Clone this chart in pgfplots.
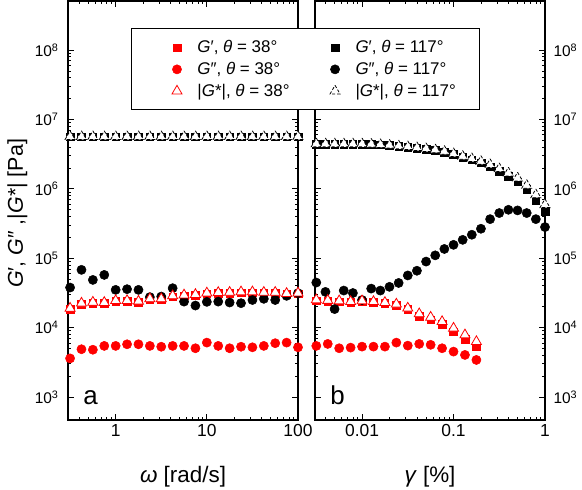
\documentclass[border=0pt]{standalone}
\usepackage{fontspec}
\setmainfont{Liberation Sans}
\usepackage{pgfplots}
\pgfplotsset{compat=1.18}
\definecolor{myred}{rgb}{1,0,0}
\pgfplotsset{
  limg/.style={legend image code/.code={\path (-23bp,0bp) (18bp,0bp); \draw[##1,/tikz/only marks] plot coordinates {(0bp,0bp)};}},
  rsq/.style={only marks, mark=square*, mark size=3.8bp, mark options={draw=myred, fill=myred, line width=0.5bp}, limg},
  rci/.style={only marks, mark=*, mark size=4.6bp, mark options={draw=myred, fill=myred, line width=0.5bp}, limg},
  rtr/.style={only marks, mark=triangle*, mark size=5.8bp, mark options={draw=myred, fill=white, line width=0.8bp}, limg},
  bsq/.style={only marks, mark=square*, mark size=3.8bp, mark options={draw=black, fill=black, line width=0.5bp}, limg},
  bci/.style={only marks, mark=*, mark size=4.6bp, mark options={draw=black, fill=black, line width=0.5bp}, limg},
  btr/.style={only marks, mark=triangle*, mark size=5.8bp, mark options={draw=black, fill=white, line width=0.8bp}, limg},
}
\begin{document}
\begin{tikzpicture}
\path[use as bounding box] (0,0) rectangle (582bp,490bp);
% ---------------- left panel ----------------
\begin{axis}[at={(68bp,70bp)}, anchor=south west,
  scale only axis, width=230bp, height=419bp, clip mode=individual,
  xmode=log, ymode=log,
  ymin=466, ymax=5.1e8,
  xmin=0.3, xmax=100,
  axis line style={line width=1.1bp},
  tick align=inside, xtick pos=both, ytick pos=both,
  major tick length=6bp, minor tick length=3.5bp,
  tick style={black, line width=0.9bp},
  yticklabel style={font=\fontsize{15.5}{18}\selectfont},
  xticklabel style={font=\fontsize{17.5}{20}\selectfont, yshift=-1bp},
  xticklabels={,1,10,100}, xtick={0.1,1,10,100},
  ytick={1e3,1e4,1e5,1e6,1e7,1e8},
  yticklabels={10\textsuperscript{3},10\textsuperscript{4},10\textsuperscript{5},10\textsuperscript{6},10\textsuperscript{7},10\textsuperscript{8}},
  yticklabel pos=left,
  yticklabel style={xshift=-6bp}]
\addplot+[rsq] coordinates {
(0.3162,1.83e4)(0.4217,2.18e4)(0.5623,2.25e4)(0.7499,2.23e4)(1,2.38e4)(1.3335,2.38e4)(1.7783,2.33e4)
(2.3714,2.53e4)(3.1623,2.53e4)(4.2170,2.8e4)(5.6234,2.88e4)(7.4989,2.93e4)(10,3.08e4)(13.335,3.13e4)
(17.783,3.15e4)(23.714,3.2e4)(31.623,3.2e4)(42.170,3.15e4)(56.234,3.15e4)(74.989,3.03e4)(100,3.08e4)};
\addplot+[bsq] coordinates {
(0.3162,5.6e6)(0.4217,5.6e6)(0.5623,5.6e6)(0.7499,5.6e6)(1,5.6e6)(1.3335,5.6e6)(1.7783,5.6e6)
(2.3714,5.6e6)(3.1623,5.6e6)(4.2170,5.6e6)(5.6234,5.6e6)(7.4989,5.6e6)(10,5.6e6)(13.335,5.6e6)
(17.783,5.6e6)(23.714,5.6e6)(31.623,5.6e6)(42.170,5.6e6)(56.234,5.6e6)(74.989,5.6e6)(100,5.6e6)};
\addplot+[rci] coordinates {
(0.3162,3.6e3)(0.4217,4.88e3)(0.5623,4.8e3)(0.7499,5.45e3)(1,5.45e3)(1.3335,5.75e3)(1.7783,5.75e3)
(2.3714,5.45e3)(3.1623,5.3e3)(4.2170,5.45e3)(5.6234,5.45e3)(7.4989,5.04e3)(10,6.08e3)(13.335,5.45e3)
(17.783,5.04e3)(23.714,5.3e3)(31.623,5.2e3)(42.170,5.45e3)(56.234,5.96e3)(74.989,6.08e3)(100,5.2e3)};
\addplot+[bci] coordinates {
(0.3162,3.78e4)(0.4217,6.8e4)(0.5623,4.87e4)(0.7499,5.75e4)(1,3.5e4)(1.3335,3.58e4)(1.7783,3.5e4)
(2.3714,2.75e4)(3.1623,2.8e4)(4.2170,3.7e4)(5.6234,2.37e4)(7.4989,2.08e4)(10,2.35e4)(13.335,2.37e4)
(17.783,2.3e4)(23.714,2.25e4)(31.623,2.5e4)(42.170,2.6e4)(56.234,2.5e4)(74.989,2.87e4)(100,3.13e4)};
\addplot+[rtr] coordinates {
(0.3162,1.9e4)(0.4217,2.25e4)(0.5623,2.32e4)(0.7499,2.3e4)(1,2.45e4)(1.3335,2.45e4)(1.7783,2.4e4)
(2.3714,2.6e4)(3.1623,2.6e4)(4.2170,2.87e4)(5.6234,2.95e4)(7.4989,3.0e4)(10,3.15e4)(13.335,3.2e4)
(17.783,3.22e4)(23.714,3.27e4)(31.623,3.27e4)(42.170,3.22e4)(56.234,3.22e4)(74.989,3.1e4)(100,3.15e4)};
\addplot+[btr] coordinates {
(0.3162,5.65e6)(0.4217,5.65e6)(0.5623,5.65e6)(0.7499,5.65e6)(1,5.65e6)(1.3335,5.65e6)(1.7783,5.65e6)
(2.3714,5.65e6)(3.1623,5.65e6)(4.2170,5.65e6)(5.6234,5.65e6)(7.4989,5.65e6)(10,5.65e6)(13.335,5.65e6)
(17.783,5.65e6)(23.714,5.65e6)(31.623,5.65e6)(42.170,5.65e6)(56.234,5.65e6)(74.989,5.65e6)(100,5.65e6)};
\node[anchor=base west, font=\fontsize{26}{30}\selectfont] at (axis description cs:0.052,0.036) {a};
\node[anchor=base, font=\fontsize{22.5}{26}\selectfont] at (axis description cs:0.5,-0.150) {\textit{ω} [rad/s]};
\node[rotate=90, font=\fontsize{21.5}{26}\selectfont] at (axis description cs:-0.22,0.493) {\textit{G}′, \textit{G}″ ,|\textit{G}*| [Pa]};
\end{axis}
% ---------------- right panel ----------------
\begin{axis}[at={(315bp,70bp)}, anchor=south west,
  scale only axis, width=230bp, height=419bp, clip mode=individual,
  xmode=log, ymode=log,
  ymin=466, ymax=5.1e8,
  xmin=0.00306, xmax=1,
  axis line style={line width=1.1bp},
  tick align=inside, xtick pos=both, ytick pos=both,
  major tick length=6bp, minor tick length=3.5bp,
  tick style={black, line width=0.9bp},
  yticklabel style={font=\fontsize{15.5}{18}\selectfont},
  xticklabel style={font=\fontsize{17.5}{20}\selectfont, yshift=-1bp},
  xtick={0.001,0.01,0.1,1}, xticklabels={,0.01,0.1,1},
  ytick={1e3,1e4,1e5,1e6,1e7,1e8},
  yticklabels={10\textsuperscript{3},10\textsuperscript{4},10\textsuperscript{5},10\textsuperscript{6},10\textsuperscript{7},10\textsuperscript{8}},
  yticklabel pos=right,
  yticklabel style={xshift=5bp},
  legend columns=2, legend cell align=left,
  legend style={at={(axis description cs:-0.8,0.935)}, anchor=north west,
    draw=black, line width=1bp, fill=white,
    inner xsep=22bp, inner ysep=10bp,
    font=\fontsize{17}{20}\selectfont, row sep=4bp,
    /tikz/every even column/.append style={column sep=20bp}}]
\addplot+[rsq] coordinates {
(0.003162,2.44e4)(0.004217,2.39e4)(0.005623,2.37e4)(0.007499,2.31e4)(0.01,2.37e4)(0.013335,2.31e4)
(0.017783,2.24e4)(0.023714,2.1e4)(0.031623,1.83e4)(0.04217,1.47e4)(0.05623,1.29e4)(0.07499,1.11e4)
(0.1,8.7e3)(0.13335,6.73e3)(0.17783,5.27e3)};
\addlegendentry{\textit{G}′, \textit{θ} = 38°}
\addplot+[bsq] coordinates {
(0.003162,4.43e6)(0.003981,4.43e6)(0.005012,4.43e6)(0.006310,4.43e6)(0.007943,4.43e6)(0.01,4.43e6)
(0.01259,4.38e6)(0.01585,4.32e6)(0.01995,4.22e6)(0.02512,4.12e6)(0.03162,4.01e6)(0.03981,3.88e6)
(0.05012,3.74e6)(0.06310,3.6e6)(0.07943,3.4e6)(0.1,3.15e6)(0.1259,2.86e6)(0.1585,2.62e6)
(0.1995,2.37e6)(0.2512,2.08e6)(0.3162,1.8e6)(0.3981,1.52e6)(0.5012,1.27e6)(0.6310,9.8e5)
(0.7943,6.8e5)(1.0,4.8e5)};
\addlegendentry{\textit{G}′, \textit{θ} = 117°}
\addplot+[rci] coordinates {
(0.003162,5.45e3)(0.004217,5.82e3)(0.005623,5.04e3)(0.007499,5.15e3)(0.01,5.32e3)(0.013335,5.32e3)
(0.017783,5.32e3)(0.023714,6.08e3)(0.031623,5.5e3)(0.04217,5.82e3)(0.05623,5.65e3)(0.07499,5.04e3)
(0.1,4.51e3)(0.13335,4.04e3)(0.17783,3.42e3)};
\addlegendentry{\textit{G}″, \textit{θ} = 38°}
\addplot+[bci] coordinates {
(0.003162,4.46e4)(0.003981,3.27e4)(0.005012,1.85e4)(0.006310,3.42e4)(0.007943,3.15e4)(0.01,2.5e4)
(0.01259,3.65e4)(0.01585,3.42e4)(0.01995,3.87e4)(0.02512,4.4e4)(0.03162,5.65e4)(0.03981,6.6e4)
(0.05012,8.95e4)(0.06310,1.1e5)(0.07943,1.36e5)(0.1,1.56e5)(0.1259,1.84e5)(0.1585,2.18e5)
(0.1995,2.66e5)(0.2512,3.66e5)(0.3162,4.48e5)(0.3981,4.99e5)(0.5012,4.89e5)(0.6310,4.48e5)
(0.7943,3.66e5)(1.0,2.81e5)};
\addlegendentry{\textit{G}″, \textit{θ} = 117°}
\addplot+[rtr] coordinates {
(0.003162,2.51e4)(0.004217,2.46e4)(0.005623,2.43e4)(0.007499,2.37e4)(0.01,2.43e4)(0.013335,2.37e4)
(0.017783,2.3e4)(0.023714,2.18e4)(0.031623,1.91e4)(0.04217,1.58e4)(0.05623,1.41e4)(0.07499,1.22e4)
(0.1,9.8e3)(0.13335,7.85e3)(0.17783,6.28e3)};
\addlegendentry{|\textit{G}*|, \textit{θ} = 38°}
\addplot+[btr] coordinates {
(0.003162,4.45e6)(0.003981,4.45e6)(0.005012,4.45e6)(0.006310,4.45e6)(0.007943,4.45e6)(0.01,4.45e6)
(0.01259,4.4e6)(0.01585,4.35e6)(0.01995,4.25e6)(0.02512,4.15e6)(0.03162,4.05e6)(0.03981,3.92e6)
(0.05012,3.79e6)(0.06310,3.66e6)(0.07943,3.47e6)(0.1,3.21e6)(0.1259,2.94e6)(0.1585,2.72e6)
(0.1995,2.48e6)(0.2512,2.23e6)(0.3162,1.95e6)(0.3981,1.69e6)(0.5012,1.43e6)(0.6310,1.12e6)
(0.7943,8.2e5)(1.0,5.9e5)};
\addlegendentry{|\textit{G}*|, \textit{θ} = 117°}
\node[anchor=base west, font=\fontsize{26}{30}\selectfont] at (axis description cs:0.052,0.036) {b};
\node[anchor=base, font=\fontsize{22.5}{26}\selectfont] at (axis description cs:0.5,-0.150) {\textit{γ} [\%]};
\end{axis}
\end{tikzpicture}
\end{document}
